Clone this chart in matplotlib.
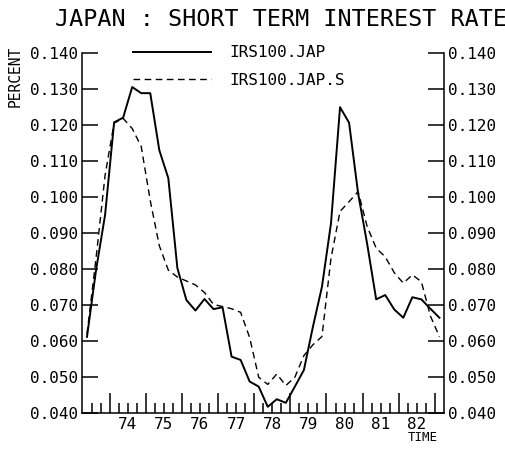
import matplotlib
matplotlib.use("Agg")
import matplotlib.pyplot as plt
import numpy as np
import pandas as pd

# quarterly series, 1973Q2 .. 1983Q1
quarters = pd.period_range("1973Q2", "1983Q1", freq="Q")

irs100_jap = [0.0612, 0.0797, 0.0950,
              0.1207, 0.1220, 0.1305, 0.1288,
              0.1288, 0.1130, 0.1052, 0.0803,
              0.0714, 0.0685, 0.0717, 0.0689,
              0.0694, 0.0557, 0.0548, 0.0488,
              0.0474, 0.0418, 0.0439, 0.0429,
              0.0474, 0.0520, 0.0640, 0.0751,
              0.0927, 0.1249, 0.1206, 0.1010,
              0.0870, 0.0716, 0.0728, 0.0688,
              0.0665, 0.0722, 0.0716, 0.0690,
              0.0665]

irs100_jap_s = [0.0620, 0.0830, 0.1060,
                0.1205, 0.1218, 0.1190, 0.1140,
                0.0990, 0.0865, 0.0797, 0.0778,
                0.0767, 0.0756, 0.0735, 0.0702,
                0.0696, 0.0690, 0.0680, 0.0610,
                0.0500, 0.0480, 0.0509, 0.0477,
                0.0500, 0.0560, 0.0590, 0.0613,
                0.0830, 0.0960, 0.0987, 0.1015,
                0.0918, 0.0858, 0.0834, 0.0790,
                0.0761, 0.0784, 0.0765, 0.0670,
                0.0612]

year_labels = ["74", "75", "76", "77", "78", "79", "80", "81", "82"]
yticks = [0.040, 0.050, 0.060, 0.070, 0.080, 0.090, 0.100, 0.110, 0.120, 0.130, 0.140]

# plot each quarter at its midpoint
t = np.array([p.year + (p.quarter - 0.5) / 4 for p in quarters])

mono = "DejaVu Sans Mono"
plt.rcParams["font.family"] = mono

fig = plt.figure(figsize=(5.06, 4.5), dpi=100)
ax = fig.add_axes([0.163, 0.0816, 0.7144, 0.8011])

ax.plot(t, irs100_jap, color="black", lw=1.4, label="IRS100.JAP")
ax.plot(t, irs100_jap_s, color="black", lw=1.0, dashes=(4.8, 3.2), label="IRS100.JAP.S")

ax.set_xlim(1973.25, 1983.25)
ax.set_ylim(0.040, 0.140)

for s in ["left", "right", "bottom"]:
    ax.spines[s].set_linewidth(1.1)
ax.spines["top"].set_visible(False)

# y axis, same scale both sides
ax.set_yticks(yticks)
ax.set_yticklabels(["%.3f" % v for v in yticks])
ax.tick_params(axis="y", direction="in", length=11.5, width=1.1, right=True,
               labelright=True, labelsize=11.5, pad=3)

# x axis: long ticks at year boundaries, short ones at quarters,
# year labels sit at mid-year
years = np.arange(1974, 1984)
ax.set_xticks(years)
ax.set_xticklabels([""] * len(years))
qticks = [y + q for y in range(1973, 1984) for q in (0.25, 0.5, 0.75)
          if 1973.25 < y + q < 1983.25]
qlabels = []
for v in qticks:
    lab = ""
    if v % 1 == 0.5 and 1974 <= v < 1983:
        lab = year_labels[int(v) - 1974]
    qlabels.append(lab)
ax.set_xticks(qticks, minor=True)
ax.set_xticklabels(qlabels, minor=True)
ax.tick_params(axis="x", which="major", direction="in", length=14.4, width=1.1)
ax.tick_params(axis="x", which="minor", direction="in", length=7.2, width=1.1,
               labelsize=11.5, pad=3)

leg = ax.legend(loc="upper left", bbox_to_anchor=(0.14, 1.021), frameon=False,
                fontsize=11.5, handlelength=4.9, handletextpad=1.1,
                labelspacing=0.8, borderpad=0, borderaxespad=0)

fig.text(0.556, 0.956, "JAPAN : SHORT TERM INTEREST RATE", ha="center", va="center",
         fontsize=16.8)
fig.text(0.03, 0.83, "PERCENT", rotation=90, ha="center", va="center", fontsize=10.5)
fig.text(0.836, 0.027, "TIME", ha="center", va="center", fontsize=9)

fig.savefig("out.png", dpi=100)
